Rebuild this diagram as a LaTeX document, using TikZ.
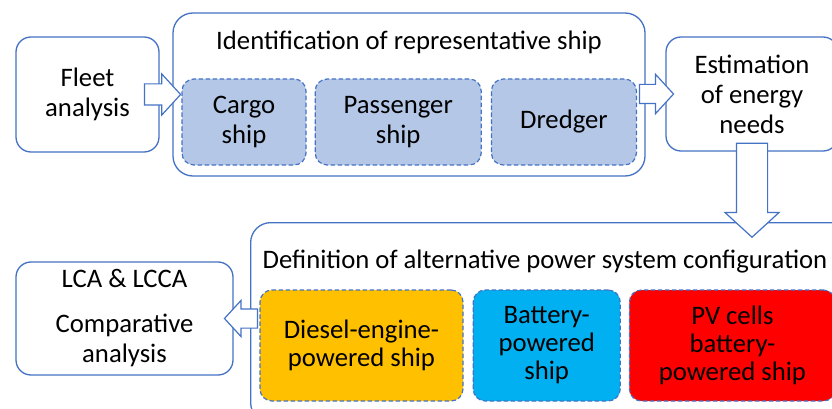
\documentclass[tikz,border=0pt]{standalone}
\usepackage{fontspec}
\setmainfont{Carlito}
\usetikzlibrary{positioning}
\usetikzlibrary{shapes.arrows}

\definecolor{boxblue}{HTML}{4472C4}
\definecolor{shipfill}{HTML}{B4C7E7}
\definecolor{dieselfill}{HTML}{FFC000}
\definecolor{batteryfill}{HTML}{00B0F0}
\definecolor{pvfill}{HTML}{FF0000}

\tikzset{
  stage/.style={draw=boxblue, line width=1.3pt, rounded corners=15pt, align=center, inner sep=0pt},
  group/.style={draw=boxblue, line width=1.3pt, rounded corners=20pt, inner sep=0pt},
  option/.style={draw=boxblue, dash pattern=on 4.5pt off 2.5pt, line width=1.2pt, rounded corners=12pt, align=center, inner sep=0pt},
  flow/.style={single arrow, draw=boxblue, fill=white, line width=1.2pt, inner sep=0pt, single arrow head indent=0pt, single arrow tip angle=95}
}

\begin{document}
\begin{tikzpicture}[x=1pt,y=-1pt,font=\fontsize{26.7}{30}\selectfont]
\useasboundingbox (0,0) rectangle (832,409);
\clip (0,0) rectangle (832,409);

% top row
\node[stage, minimum width=143pt, minimum height=115pt] (fleet) at (87.5,94.5) {Fleet\\analysis};
\node[group, minimum width=472pt, minimum height=163pt] (ident) at (409,94.5) {};
\node (identtitle) at (409,42) {Identification of representative ship};
\node[option, fill=shipfill, minimum width=124pt, minimum height=86pt] (cargo) at (244,122) {Cargo\\ship};
\node[option, fill=shipfill, minimum width=166pt, minimum height=86pt, right=8pt of cargo] (passenger) {Passenger\\ship};
\node[option, fill=shipfill, minimum width=145pt, minimum height=86pt, right=9pt of passenger] (dredger) {Dredger};
\node[stage, minimum width=172pt, minimum height=114pt] (energy) at (752,94) {Estimation\\of energy\\needs};

% bottom row
\node[group, minimum width=600pt, minimum height=200pt, anchor=north west] (config) at (250,222) {};
\node (configtitle) at (545,262) {Definition of alternative power system configuration};
\begin{scope}[font=\fontsize{26.7}{28}\selectfont]
\node[option, fill=dieselfill, minimum width=203pt, minimum height=111pt] (diesel) at (361.5,345.5) {Diesel-engine-\\powered ship};
\node[option, fill=batteryfill, minimum width=147pt, minimum height=111pt, right=9pt of diesel] (battery) {Battery-\\powered\\ship};
\node[option, fill=pvfill, minimum width=206pt, minimum height=111pt, right=8pt of battery] (pv) {PV cells\\battery-\\powered ship};
\end{scope}
\node[stage, minimum width=217pt, minimum height=113pt] (lca) at (124.5,318.5) {LCA \& LCCA\\[15pt]Comparative\\analysis};

% block arrows
\node[flow, minimum height=36pt, inner ysep=10pt, single arrow head extend=10pt, anchor=tip] (fleetarrow) at (cargo.west |- fleet.east) {};
\node[flow, minimum height=34pt, inner ysep=9pt, single arrow head extend=10pt, anchor=tip] (shiparrow) at ([xshift=9pt]energy.west) {};
\node[flow, minimum height=94pt, inner xsep=15pt, single arrow head extend=11.5pt, shape border rotate=270, anchor=tail] (energyarrow) at ([yshift=9pt]energy.south) {};
\node[flow, minimum height=33pt, inner ysep=9pt, single arrow head extend=8.5pt, shape border rotate=180, anchor=tip] (configarrow) at ([xshift=-10pt]lca.east) {};

\end{tikzpicture}
\end{document}
